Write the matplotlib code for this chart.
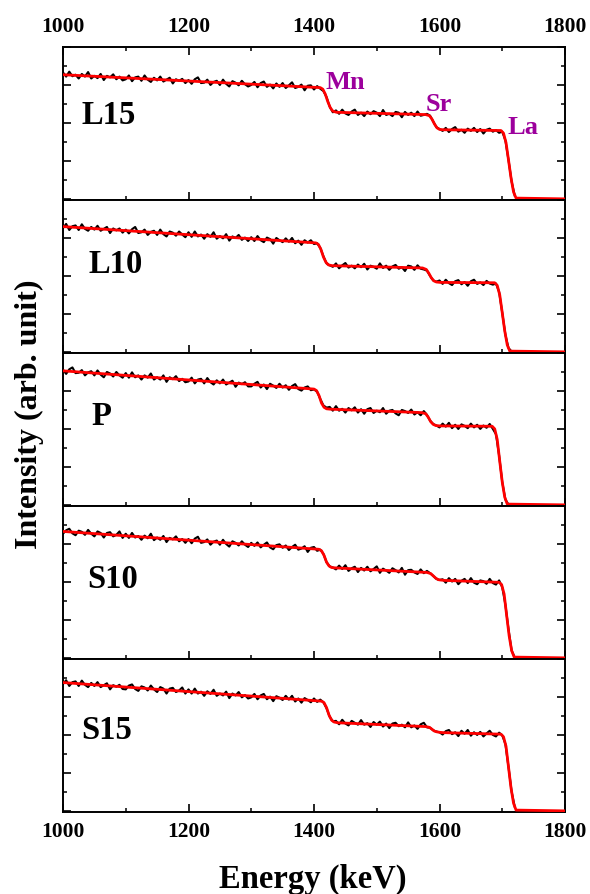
import numpy as np
import matplotlib
matplotlib.use("Agg")
import matplotlib.pyplot as plt
from matplotlib.ticker import MultipleLocator

plt.rcParams["font.family"] = ["Liberation Serif", "DejaVu Serif"]
plt.rcParams["font.weight"] = "bold"

# Energy grid of the measured spectra (keV)
energy = np.arange(1000, 1721, 5)

samples = ["L15", "L10", "P", "S10", "S15"]

# Measured RBS yields (hundredths of arb. unit), one list per sample
counts_L15 = [
    333, 322, 335, 323, 327, 317, 329, 322, 334, 317, 324, 318, 329, 313, 324, 320, 328, 315, 322, 312,
    315, 325, 310, 320, 322, 311, 325, 314, 308, 319, 312, 322, 309, 314, 319, 304, 315, 311, 316, 305,
    313, 303, 315, 320, 305, 306, 314, 300, 308, 311, 300, 314, 303, 296, 310, 306, 299, 311, 302, 296,
    300, 308, 294, 305, 309, 295, 301, 291, 304, 295, 305, 292, 299, 307, 292, 295, 301, 286, 298, 299,
    288, 297, 290,
    284, 268, 243, 228,
    233, 224, 235, 225, 221, 230, 235, 221, 227, 218, 230, 223, 231, 227, 218, 234, 221, 224, 218, 229,
    227, 215, 229, 221, 227, 218, 230, 219, 221, 224,
    219, 204, 189, 184,
    179, 187, 176, 184, 189, 177, 182, 174, 185, 179, 187, 176, 184, 172, 182, 185, 177, 181, 174,
    177, 154, 102, 45, 8,
]
counts_L10 = [
    326, 337, 321, 331, 333, 321, 336, 324, 319, 329, 322, 332, 319, 324, 329, 313, 325, 320, 325, 314,
    322, 312, 323, 329, 313, 315, 322, 308, 316, 319, 308, 322, 310, 304, 317, 314, 306, 317, 309, 302,
    315, 303, 317, 304, 309, 298, 310, 303, 315, 298, 305, 299, 310, 293, 304, 300, 308, 295, 301, 292,
    302, 292, 305, 294, 289, 301, 297, 285, 300, 294, 289, 299, 290, 300, 286, 293, 282, 294, 288, 294,
    284,
    286, 274, 252, 233, 228,
    224, 233, 220, 228, 234, 222, 227, 220, 230, 223, 232, 217, 227, 224, 219, 233, 221, 227, 216, 225,
    229, 219, 223, 213, 227, 225, 216, 228, 219, 217,
    214, 200, 188, 185,
    188, 179, 190, 181, 176, 186, 189, 178, 184, 174, 186, 190, 179, 183, 176, 187, 180, 177,
    180, 158, 103, 45, 10, 1, 0,
]
counts_P = [
    356, 345, 357, 362, 347, 348, 355, 341, 349, 352, 341, 354, 343, 336, 350, 346, 338, 350, 341, 335,
    347, 335, 349, 336, 341, 330, 341, 335, 346, 330, 336, 330, 341, 324, 336, 331, 339, 326, 332, 323,
    325, 335, 320, 330, 332, 320, 334, 323, 317, 328, 320, 330, 317, 322, 327, 311, 322, 318, 323, 312,
    312, 319, 324, 309, 317, 305, 319, 314, 308, 319, 309, 315, 303, 313, 318, 305, 301, 309, 312, 302,
    304,
    298, 279, 262, 256,
    258, 248, 260, 248, 253, 243, 255, 249, 257, 243, 252, 240, 252, 255, 242, 248, 244, 255, 240, 248,
    250, 241, 236, 250, 247, 242, 251, 238, 244, 236, 247,
    237, 222, 213, 209,
    204, 214, 206, 216, 202, 211, 200, 212, 208, 202, 214, 204, 211, 200, 209, 203, 213,
    200, 186, 130, 60, 14, 1, 0, 0,
]
counts_S10 = [
    327, 336, 340, 328, 323, 335, 332, 324, 337, 327, 320, 333, 329, 317, 329, 331, 320, 324, 333, 316,
    327, 316, 329, 317, 321, 311, 322, 315, 327, 310, 317, 311, 321, 305, 316, 312, 320, 307, 313, 303,
    313, 302, 314, 319, 303, 305, 312, 298, 306, 309, 298, 311, 300, 293, 307, 303, 296, 307, 298, 292,
    303, 295, 304, 291, 298, 304, 291, 286, 297, 299, 290, 296, 284, 292, 298, 285, 288, 294, 279, 290,
    292, 282, 285,
    274, 252, 241, 238,
    233, 243, 234, 244, 229, 236, 240, 226, 237, 230, 240, 228, 234, 241, 224, 235, 230, 224, 236, 231,
    225, 237, 219, 231, 232, 225, 221, 233, 223, 229, 223,
    216, 208, 205,
    207, 198, 210, 201, 208, 194, 203, 208, 197, 210, 198, 194, 204, 202, 195, 208, 197, 193, 204,
    186, 140, 75, 19, 1,
]
counts_S15 = [
    334, 344, 329, 339, 341, 329, 343, 332, 326, 337, 329, 339, 326, 331, 336, 320, 331, 327, 332, 321,
    320, 330, 333, 321, 316, 328, 325, 317, 330, 320, 313, 326, 322, 309, 322, 324, 313, 317, 325, 309,
    320, 309, 322, 309, 314, 303, 315, 308, 319, 303, 309, 304, 314, 297, 309, 304, 313, 299, 305, 296,
    299, 308, 294, 304, 308, 294, 301, 289, 302, 298, 292, 303, 293, 303, 288, 296, 285, 297, 292, 286,
    296, 287, 293, 286,
    270, 248, 236,
    237, 228, 240, 230, 225, 237, 232, 227, 239, 227, 231, 221, 234, 227, 235, 222, 230, 218, 230, 232,
    223, 227, 220, 233, 220, 225, 216, 228, 232, 220,
    219, 212, 209, 207,
    201, 210, 213, 202, 207, 197, 211, 203, 213, 198, 207, 200, 208, 196, 204, 211, 200, 196, 206,
    199, 176, 115, 50, 10,
]
measured = [counts_L15, counts_L10, counts_P, counts_S10, counts_S15]

# Simulated spectra (SIMNRA-type fits): energy knots and yields
fit_x_L15 = [1000, 1410, 1414, 1418, 1422, 1426, 1430, 1436, 1578, 1584, 1588, 1592, 1596, 1600,
             1606, 1698, 1702, 1706, 1710, 1714, 1718, 1722, 1800]
fit_y_L15 = [3.27, 2.93, 2.89, 2.76, 2.56, 2.40, 2.31, 2.28, 2.22, 2.19, 2.10, 1.97, 1.87, 1.83,
             1.82, 1.80, 1.73, 1.48, 1.02, 0.55, 0.18, 0.02, 0.0]
fit_x_L10 = [1000, 1403, 1407, 1411, 1415, 1419, 1423, 1429, 1573, 1579, 1583, 1587, 1591, 1595,
             1601, 1688, 1692, 1696, 1700, 1704, 1708, 1712, 1800]
fit_y_L10 = [3.30, 2.87, 2.83, 2.70, 2.50, 2.36, 2.29, 2.27, 2.21, 2.17, 2.07, 1.95, 1.87, 1.84,
             1.83, 1.82, 1.75, 1.50, 1.03, 0.55, 0.18, 0.02, 0.0]
fit_x_P = [1000, 1400, 1404, 1408, 1412, 1416, 1420, 1426, 1572, 1578, 1582, 1586, 1590, 1594,
           1600, 1684, 1688, 1692, 1696, 1700, 1704, 1708, 1800]
fit_y_P = [3.53, 3.05, 3.01, 2.88, 2.68, 2.57, 2.53, 2.52, 2.43, 2.40, 2.31, 2.19, 2.12, 2.09,
           2.08, 2.07, 2.00, 1.72, 1.15, 0.60, 0.20, 0.02, 0.0]
fit_x_S10 = [1000, 1408, 1412, 1416, 1420, 1424, 1428, 1434, 1580, 1586, 1590, 1594, 1598, 1602,
             1608, 1695, 1699, 1703, 1707, 1711, 1715, 1719, 1800]
fit_y_S10 = [3.33, 2.86, 2.82, 2.70, 2.52, 2.42, 2.38, 2.37, 2.25, 2.22, 2.16, 2.10, 2.06, 2.05,
             2.04, 1.99, 1.93, 1.68, 1.12, 0.58, 0.19, 0.02, 0.0]
fit_x_S15 = [1000, 1412, 1416, 1420, 1424, 1428, 1432, 1438, 1578, 1584, 1588, 1592, 1596, 1600,
             1606, 1698, 1702, 1706, 1710, 1714, 1718, 1722, 1800]
fit_y_S15 = [3.38, 2.89, 2.85, 2.72, 2.52, 2.39, 2.34, 2.32, 2.22, 2.20, 2.15, 2.10, 2.08, 2.07,
             2.06, 2.02, 1.95, 1.70, 1.15, 0.60, 0.20, 0.02, 0.0]
fits = [(fit_x_L15, fit_y_L15), (fit_x_L10, fit_y_L10), (fit_x_P, fit_y_P),
        (fit_x_S10, fit_y_S10), (fit_x_S15, fit_y_S15)]

# Sample-name label anchor (energy, yield) in each panel
label_pos = [(1030, 1.96), (1040, 2.09), (1046, 2.11), (1038, 1.83), (1029, 1.90)]

# Surface edges of the elements, marked on the top panel
edge_names = ["Mn", "Sr", "La"]
edge_pos = [(1418, 2.90), (1578, 2.32), (1709, 1.70)]

W, H = 590, 894
fig = plt.figure(figsize=(W / 100, H / 100), dpi=100)

left, right = 63 / W, 565 / W
top, bottom = 1 - 47 / H, 1 - 812 / H
ph = (top - bottom) / len(samples)

purple = "#9C009C"
for k, name in enumerate(samples):
    ax = fig.add_axes([left, top - (k + 1) * ph, right - left, ph])
    y_meas = np.array(measured[k]) / 100.0
    ax.plot(energy, y_meas, color="black", lw=1.5, zorder=2)
    fx, fy = fits[k]
    ax.plot(fx, fy, color="#FF0000", lw=2.0, zorder=3)

    ax.set_xlim(1000, 1800)
    ax.set_ylim(-0.03, 4.0)
    ax.xaxis.set_major_locator(MultipleLocator(200))
    ax.xaxis.set_minor_locator(MultipleLocator(100))
    ax.yaxis.set_major_locator(MultipleLocator(1.0))
    ax.yaxis.set_minor_locator(MultipleLocator(0.5))

    first, last = k == 0, k == len(samples) - 1
    ax.tick_params(axis="x", which="both", direction="in", top=first, bottom=True,
                   labeltop=first, labelbottom=last)
    ax.tick_params(axis="y", which="both", direction="in", left=True, right=True,
                   labelleft=False, labelright=False)
    ax.tick_params(which="major", length=5.5, width=1.2, pad=7, labelsize=15.5)
    ax.tick_params(which="minor", length=3.0, width=1.1)
    for lab in ax.get_xticklabels():
        lab.set_fontweight("bold")
    for sp in ax.spines.values():
        sp.set_linewidth(1.4)

    lx, ly = label_pos[k]
    ax.text(lx, ly, name, fontsize=23.5, fontweight="bold", ha="left", va="baseline")

    if first:
        for el, (ex, ey) in zip(edge_names, edge_pos):
            ax.text(ex, ey, el, fontsize=19, fontweight="bold", color=purple,
                    ha="left", va="baseline")

fig.text(29 / W, 1 - 414 / H, "Intensity (arb. unit)", rotation=90, fontsize=23,
         fontweight="bold", ha="center", va="center")
fig.text(313 / W, 1 - 888 / H, "Energy (keV)", fontsize=23.5, fontweight="bold",
         ha="center", va="baseline")

fig.savefig("out.png", dpi=100)
